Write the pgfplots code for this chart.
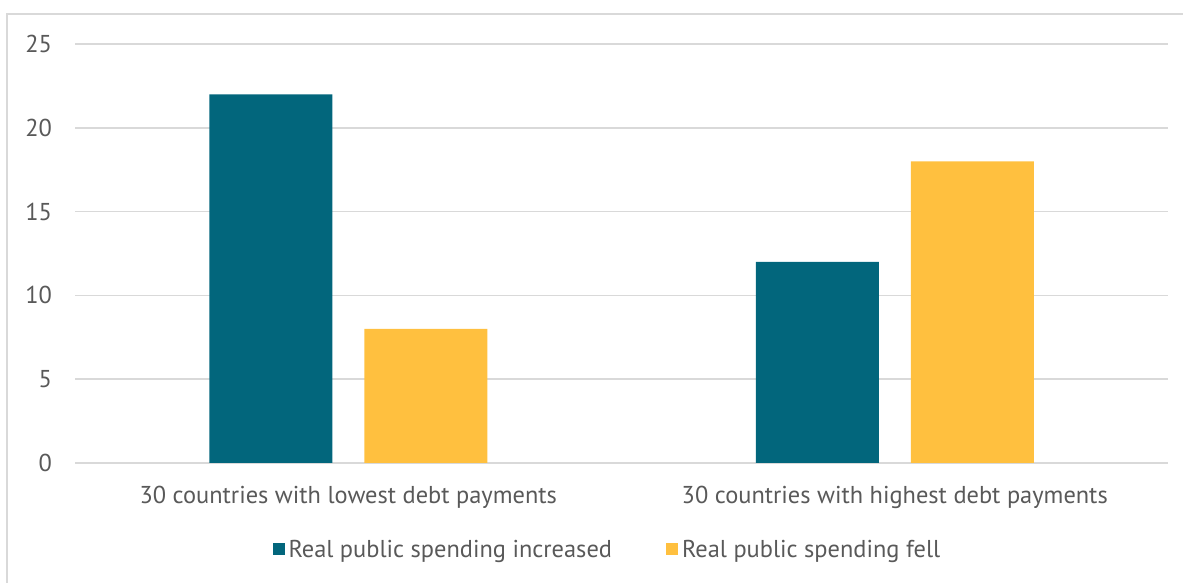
\documentclass[border=0pt]{standalone}
\usepackage{fontspec}
\setmainfont{PT Sans}
\usepackage{pgfplots}
\pgfplotsset{compat=1.18}
\definecolor{teal1}{HTML}{02667C}
\definecolor{gold1}{HTML}{FFC03F}
\definecolor{txt}{HTML}{595959}
\definecolor{grid1}{HTML}{D9D9D9}
\begin{document}
\begin{tikzpicture}[x=0.5pt,y=0.5pt]
\useasboundingbox (0,0) rectangle (1183,583);
\draw[grid1, line width=1pt] (7,-5) -- (7,569) -- (1190,569);
\begin{axis}[
  at={(37.5pt,60pt)}, anchor=south west,
  scale only axis, width=546.5pt, height=209.5pt,
  xmin=-0.5, xmax=1.5, ymin=0, ymax=25,
  ytick={0,5,10,15,20,25},
  xtick={0,1},
  xticklabels={30 countries with lowest debt payments, 30 countries with highest debt payments},
  axis line style={draw=none},
  major tick length=0pt,
  ymajorgrids, grid style={grid1, line width=0.8pt},
  tick label style={font=\fontsize{12.2pt}{14pt}\selectfont, text=txt},
  /pgf/number format/assume math mode=true,
  yticklabel style={xshift=-8pt},
  xticklabel style={yshift=-8pt},
  ybar=16pt, bar width=61.5pt,
  legend style={at={(0.488,-0.208)}, anchor=center, draw=none, fill=none,
    legend columns=2, font=\fontsize{12.2pt}{14pt}\selectfont, text=txt,
    /tikz/every even column/.append style={column sep=25pt}},
  legend image code/.code={\fill[#1] (0pt,-2.5pt) rectangle (6pt,3.5pt);},
]
\addplot[fill=teal1, draw=none] coordinates {(0,22) (1,12)};
\addplot[fill=gold1, draw=none] coordinates {(0,8) (1,18)};
\legend{Real public spending increased, Real public spending fell}
\end{axis}
\end{tikzpicture}
\end{document}
